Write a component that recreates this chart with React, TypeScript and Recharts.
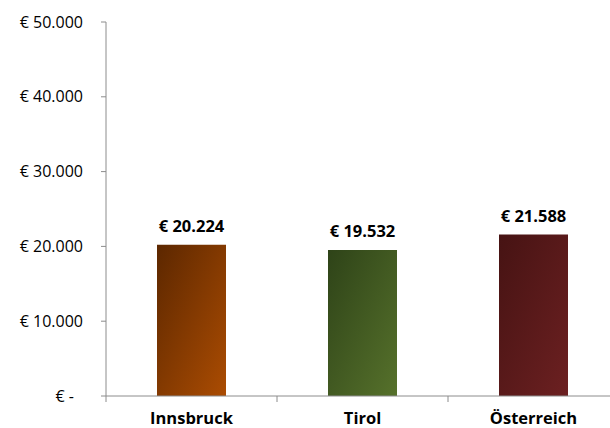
import { Bar, BarChart, Cell, LabelList, XAxis, YAxis } from "recharts";

const regions = ["Innsbruck", "Tirol", "Österreich"];
const income = [20224, 19532, 21588];
const yTicks = [0, 10000, 20000, 30000, 40000, 50000];

// top-left → bottom-right shading per bar
const barGradients = [
  ["#5c2700", "#ab4c02"],
  ["#2e4318", "#56712b"],
  ["#461313", "#6c2021"],
];

const data = regions.map((region, i) => ({ region, value: income[i] }));

const FONT = "'Open Sans', sans-serif";
const AXIS_GREY = "#8c8c8c";

const euro = (v: number) => `€ ${v.toLocaleString("de-DE")}`;

// accounting style: zero is a dash, padded so it doesn't line up with the digits
const axisEuro = (v: number) => (v === 0 ? "€ -\u2007" : euro(v));

function CategoryTick(props: any) {
  const { x, y, payload, width } = props;
  // tick marks sit on category boundaries, not centres
  const band = width / regions.length;
  const left = x - band / 2;
  return (
    <g>
      <line x1={left} x2={left} y1={y - 8} y2={y - 2} stroke={AXIS_GREY} />
      <text
        x={x}
        y={y + 20}
        textAnchor="middle"
        fontFamily={FONT}
        fontSize={16.5}
        fontWeight="bold"
        fill="#000"
      >
        {payload.value}
      </text>
    </g>
  );
}

function ValueLabel(props: any) {
  const { x, y, width, value } = props;
  return (
    <text
      x={x + width / 2}
      y={y - 13}
      textAnchor="middle"
      fontFamily={FONT}
      fontSize={16.5}
      fontWeight="bold"
      fill="#000"
    >
      {euro(Number(value))}
    </text>
  );
}

export default function App() {
  return (
    <div
      style={{
        position: "absolute",
        left: 0,
        top: 0,
        width: 610,
        height: 428,
        overflow: "hidden",
        background: "#fff",
      }}
    >
      <BarChart
        width={620}
        height={428}
        data={data}
        margin={{ top: 22, right: 1, bottom: 0, left: 0 }}
        barSize={69}
      >
        <defs>
          {barGradients.map(([from, to], i) => (
            <linearGradient
              key={i}
              id={`barGrad${i}`}
              x1="0"
              y1="0"
              x2="1"
              y2="1"
            >
              <stop offset="0%" stopColor={from} />
              <stop offset="100%" stopColor={to} />
            </linearGradient>
          ))}
        </defs>
        <YAxis
          width={106}
          domain={[0, 50000]}
          ticks={yTicks}
          interval={0}
          tickFormatter={axisEuro}
          tickSize={5}
          tickMargin={18}
          axisLine={{ stroke: AXIS_GREY }}
          tickLine={{ stroke: AXIS_GREY }}
          tick={{ fill: "#000", fontSize: 16, fontFamily: FONT }}
        />
        <XAxis
          dataKey="region"
          height={32}
          interval={0}
          axisLine={{ stroke: AXIS_GREY }}
          tickLine={false}
          tick={<CategoryTick />}
        />
        <Bar dataKey="value" isAnimationActive={false}>
          {data.map((d, i) => (
            <Cell key={d.region} fill={`url(#barGrad${i})`} />
          ))}
          <LabelList dataKey="value" content={<ValueLabel />} />
        </Bar>
      </BarChart>
    </div>
  );
}
